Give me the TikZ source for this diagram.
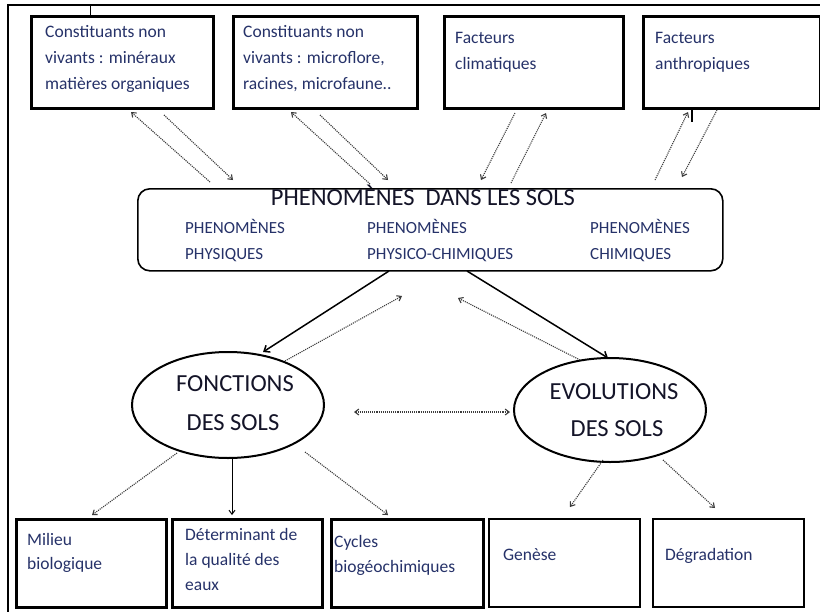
\documentclass[tikz,border=0pt]{standalone}
\usepackage{fontspec}
\setmainfont{Carlito}
\usetikzlibrary{arrows.meta,shapes.geometric}
\definecolor{txt}{RGB}{38,50,105}
\definecolor{ttl}{RGB}{20,20,40}
\definecolor{dotc}{RGB}{60,60,60}
\begin{document}
\begin{tikzpicture}[x=1pt,y=-1pt,
  box/.style={draw, line width=2.8pt, anchor=north west, inner sep=0pt},
  thinbox/.style={draw, line width=1.8pt, anchor=north west, inner sep=0pt},
  sm/.style={anchor=base west, inner sep=0pt, text=txt, font=\fontsize{17.5}{20}\selectfont},
  sub/.style={anchor=base west, inner sep=0pt, text=txt, font=\fontsize{17}{20}\selectfont},
  big/.style={anchor=base, inner sep=0pt, text=ttl, font=\fontsize{24.5}{26}\selectfont},
  ell/.style={draw, ellipse, line width=2pt, inner sep=0pt},
  dotarr/.style={densely dotted, line width=1.1pt, draw=dotc, -{Straight Barb[length=4pt,width=6pt]}},
  solarr/.style={line width=1.5pt, -{Straight Barb[length=5pt,width=8pt]}},
  dotdbl/.style={densely dotted, line width=1.1pt, draw=dotc, {Straight Barb[length=4pt,width=6pt]}-{Straight Barb[length=4pt,width=6pt]}}]
\useasboundingbox (0,0) rectangle (820,611);
\clip (0,0) rectangle (820,611);
\fill[white] (0,0) rectangle (820,611);
% outer frame
\coordinate (fa) at (8,625);
\coordinate (fb) at (8,5);
\coordinate (fc) at (830,5);
\draw[line width=1.2pt] (fa) -- (fb) -- (fc);
% top boxes
\node[box, minimum width=182pt, minimum height=92pt] (b1) at (30,15) {};
\node[box, minimum width=184pt, minimum height=92pt] (b2) at (232,15) {};
\node[box, minimum width=179pt, minimum height=92pt] (b3) at (443,15) {};
\node[box, minimum width=177pt, minimum height=92pt] (b4) at (642,15) {};
\coordinate (tk1) at (90,5);
\draw[line width=1pt] (tk1) -- (tk1 |- b1.north);
\coordinate (tk2) at (692,122);
\draw[line width=1.2pt] (tk2 |- b4.south) -- (tk2);
\node[sm] (t1a) at (45,37) {Constituants non};
\node[sm] (t1b) at (45,63) {vivants : minéraux};
\node[sm] (t1c) at (45,89) {matières organiques};
\node[sm] (t2a) at (243,37) {Constituants non};
\node[sm] (t2b) at (243,63) {vivants : microflore,};
\node[sm] (t2c) at (243,89) {racines, microfaune..};
\node[sm] (t3a) at (455,43) {Facteurs};
\node[sm] (t3b) at (455,69) {climatiques};
\node[sm] (t4a) at (655,43) {Facteurs};
\node[sm] (t4b) at (655,69) {anthropiques};
% centre box
\node[draw, line width=1.6pt, rounded corners=12pt, anchor=north west, inner sep=0pt,
      minimum width=585pt, minimum height=82pt] (c) at (137,188) {};
\node[big] (ct) at (423,205) {PHENOMÈNES\ \ DANS LES SOLS};
\node[sub] (c1a) at (185,233) {PHENOMÈNES};
\node[sub] (c1b) at (185,259) {PHYSIQUES};
\node[sub] (c2a) at (367,233) {PHENOMÈNES};
\node[sub] (c2b) at (367,259) {PHYSICO-CHIMIQUES};
\node[sub] (c3a) at (590,233) {PHENOMÈNES};
\node[sub] (c3b) at (590,259) {CHIMIQUES};
% ellipses
\node[ell, minimum width=192pt, minimum height=106pt] (ef) at (228,405) {};
\node[ell, minimum width=192pt, minimum height=104pt] (ee) at (610,410) {};
\node[big] (ef1) at (235,391) {FONCTIONS};
\node[big] (ef2) at (233,430) {DES SOLS};
\node[big] (ee1) at (614,399) {EVOLUTIONS};
\node[big] (ee2) at (617,436) {DES SOLS};
% bottom boxes
\node[box, minimum width=150pt, minimum height=88pt] (bA) at (15,518) {};
\node[box, minimum width=150pt, minimum height=88pt] (bB) at (171,518) {};
\node[box, minimum width=152pt, minimum height=88pt] (bC) at (330,518) {};
\node[thinbox, minimum width=151pt, minimum height=88pt] (bD) at (488,518) {};
\node[thinbox, minimum width=151pt, minimum height=88pt] (bE) at (652,518) {};
\node[sm] (tAa) at (27,545) {Milieu};
\node[sm] (tAb) at (27,569) {biologique};
\node[sm] (tBa) at (185,540) {Déterminant de};
\node[sm] (tBb) at (185,565) {la qualité des};
\node[sm] (tBc) at (185,590) {eaux};
\node[sm] (tCa) at (334,547) {Cycles};
\node[sm] (tCb) at (334,572) {biogéochimiques};
\node[sm] (tDa) at (503,560) {Genèse};
\node[sm] (tEa) at (665,560) {Dégradation};
% top arrows
\coordinate (a1s) at (210,182); \coordinate (a1e) at (131,112);
\coordinate (a2s) at (164,115); \coordinate (a2e) at (233,180);
\coordinate (a3s) at (370,184); \coordinate (a3e) at (291,112);
\coordinate (a4s) at (320,115); \coordinate (a4e) at (388,180);
\coordinate (a5s) at (515,113); \coordinate (a5e) at (481,180);
\coordinate (a6s) at (511,183); \coordinate (a6e) at (546,113);
\coordinate (a7s) at (655,180); \coordinate (a7e) at (688,112);
\coordinate (a8s) at (717,110); \coordinate (a8e) at (682,177);
\draw[dotarr] (a1s) -- (a1e);
\draw[dotarr] (a2s) -- (a2e);
\draw[dotarr] (a3s) -- (a3e);
\draw[dotarr] (a4s) -- (a4e);
\draw[dotarr] (a5s) -- (a5e);
\draw[dotarr] (a6s) -- (a6e);
\draw[dotarr] (a7s) -- (a7e);
\draw[dotarr] (a8s) -- (a8e);
% centre to ellipses
\coordinate (m1s) at (389,271); \coordinate (m1e) at (263,352);
\coordinate (m2s) at (285,361); \coordinate (m2e) at (402,296);
\coordinate (m3s) at (467,271); \coordinate (m3e) at (608,358);
\coordinate (m4s) at (580,360); \coordinate (m4e) at (458,298);
\draw[solarr] (m1s) -- (m1e);
\draw[dotarr] (m2s) -- (m2e);
\draw[solarr] (m3s) -- (m3e);
\draw[dotarr] (m4s) -- (m4e);
\coordinate (d1) at (354,412); \coordinate (d2) at (510,412);
\draw[dotdbl] (d1) -- (d2);
% ellipses to bottom boxes
\coordinate (f1s) at (177,453); \coordinate (f1e) at (92,515);
\coordinate (f2s) at (232,459); \coordinate (f2e) at (232,515);
\coordinate (f3s) at (305,452); \coordinate (f3e) at (388,515);
\coordinate (g1s) at (603,460); \coordinate (g1e) at (570,507);
\coordinate (g2s) at (663,460); \coordinate (g2e) at (715,508);
\draw[dotarr] (f1s) -- (f1e);
\draw[line width=1pt, -{Straight Barb[length=4pt,width=6pt]}] (f2s) -- (f2e);
\draw[dotarr] (f3s) -- (f3e);
\draw[dotarr] (g1s) -- (g1e);
\draw[dotarr] (g2s) -- (g2e);
\end{tikzpicture}
\end{document}
